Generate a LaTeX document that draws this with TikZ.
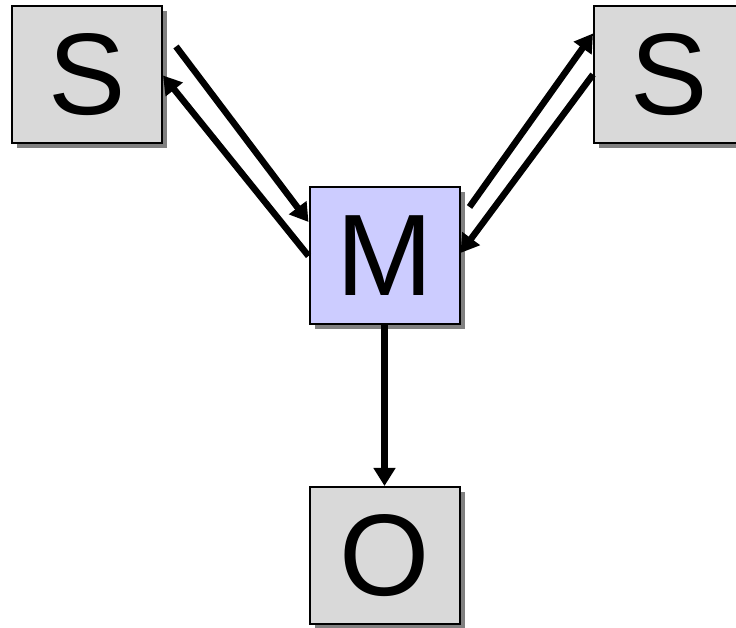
\documentclass[tikz,border=0pt]{standalone}
\usepackage{fontspec}
\setmainfont{Liberation Sans}
\usetikzlibrary{arrows.meta,shadows}

\definecolor{boxgray}{RGB}{217,217,217}
\definecolor{boxblue}{RGB}{204,204,255}
\definecolor{shadowgray}{RGB}{128,128,128}

\tikzset{
  unit/.style={draw=black, line width=2pt, inner sep=0pt,
    minimum width=150pt, minimum height=137pt,
    font=\fontsize{116}{116}\selectfont,
    drop shadow={shadow xshift=5pt, shadow yshift=-5pt, fill=shadowgray, opacity=1}},
  side/.style={unit, fill=boxgray},
  hub/.style={unit, fill=boxblue},
  flow/.style={line width=6.5pt, -{Triangle[length=18pt,width=21pt]}}
}

\begin{document}
\begin{tikzpicture}[x=1pt, y=1pt]

    % Fix the page to the size of the picture
    \useasboundingbox (0,0) rectangle (736,628);

    % Centres of the four boxes
    \coordinate (L) at (87,553.5);
    \coordinate (R) at (669,553.5);
    \coordinate (C) at (384.5,372);
    \coordinate (B) at (384.5,72.5);

    % Draw the boxes
    \node[side] (sl) at (L) {S};
    \node[side] (sr) at (R) {S};
    \node[hub] (m) at (C) {M};
    \node[side] (o) at (B) {O};

    % Arrows between the left S and M
    \draw[flow] ([shift={(13pt,28pt)}]sl.east) -- ([yshift=34pt]m.west);
    \draw[flow] (m.west) -- ([yshift=-1pt]sl.east);

    % Arrows between M and the right S
    \draw[flow] ([shift={(9pt,49pt)}]m.east) -- ([yshift=41pt]sr.west);
    \draw[flow] (sr.west) -- ([yshift=3pt]m.east);

    % Arrow from M down to O
    \draw[flow] (m.south) -- (o.north);

\end{tikzpicture}
\end{document}
